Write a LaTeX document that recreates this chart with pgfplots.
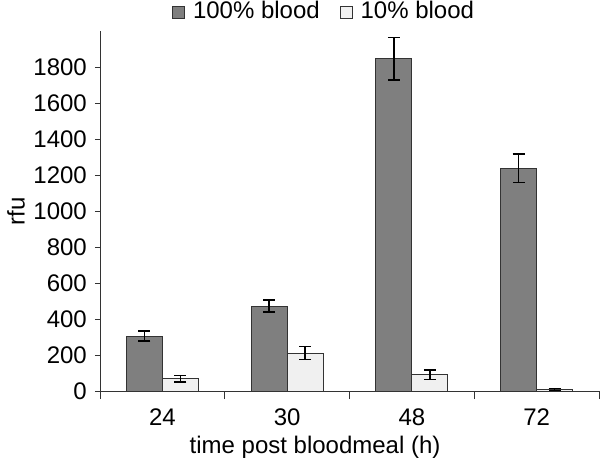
\documentclass[border=0pt]{standalone}
\usepackage{fontspec}
\setmainfont{Liberation Sans}
\usepackage{pgfplots}
\pgfplotsset{compat=1.18}
\definecolor{darkbar}{HTML}{7F7F7F}
\definecolor{lightbar}{HTML}{F0F0F0}
\definecolor{axisgray}{HTML}{333333}
\begin{document}
\fontsize{24}{28}\selectfont
\begin{tikzpicture}[x=1pt,y=1pt]
\useasboundingbox (0,0) rectangle (600,467);
\begin{axis}[
  at={(100pt,76pt)}, anchor=south west,
  scale only axis, width=499pt, height=360pt,
  xmin=-0.5, xmax=3.5, ymin=0, ymax=2000,
  ybar=0pt, bar width=36pt,
  axis x line*=bottom, axis y line*=left,
  axis line style={-, axisgray, line width=0.9pt},
  ytick={0,200,...,1800},
  xtick={0,1,2,3}, xticklabels={24,30,48,72},
  minor xtick={-0.5,0.5,1.5,2.5,3.5},
  major x tick style={draw=none},
  minor x tick style={axisgray, line width=0.9pt},
  y tick style={axisgray, line width=0.9pt},
  tick align=outside,
  major tick length=5pt, minor tick length=8pt,
  /pgf/number format/assume math mode=true,
  /pgf/number format/1000 sep={},
  tick label style={font=\fontsize{24}{28}\selectfont},
  xticklabel style={yshift=-5pt},
  label style={font=\fontsize{24}{28}\selectfont},
  ylabel={rfu},
  xlabel={time post bloodmeal (h)},
  ylabel style={at={(axis description cs:-0.168,0.5)}, anchor=center},
  xlabel style={at={(axis description cs:0.431,-0.155)}, anchor=center},
  legend columns=2,
  legend style={at={(0.1443,1.053)}, anchor=west, draw=none, fill=none,
    inner sep=0pt, font=\fontsize{24}{28}\selectfont,
    /tikz/every odd column/.append style={column sep=6pt},
    /tikz/every even column/.append style={column sep=18pt}},
  legend image code/.code={\draw[#1, line width=0.8pt] (0pt,-6pt) rectangle (12pt,6pt);},
  error bars/y dir=both, error bars/y explicit,
  error bars/error bar style={black, line width=1.5pt},
  error bars/error mark options={black, line width=1.5pt, mark size=6pt, rotate=90},
]
\addplot[fill=darkbar, draw=black!80, line width=0.8pt] coordinates {
  (0,305) +- (0,28)
  (1,472) +- (0,33)
  (2,1846) +- (0,117)
  (3,1238) +- (0,80)
};
\addplot[fill=lightbar, draw=black!80, line width=0.8pt] coordinates {
  (0,68) +- (0,17)
  (1,211) +- (0,35)
  (2,91) +- (0,27)
  (3,9) +- (0,5)
};
\legend{100\% blood, 10\% blood}
\end{axis}
\end{tikzpicture}
\end{document}
